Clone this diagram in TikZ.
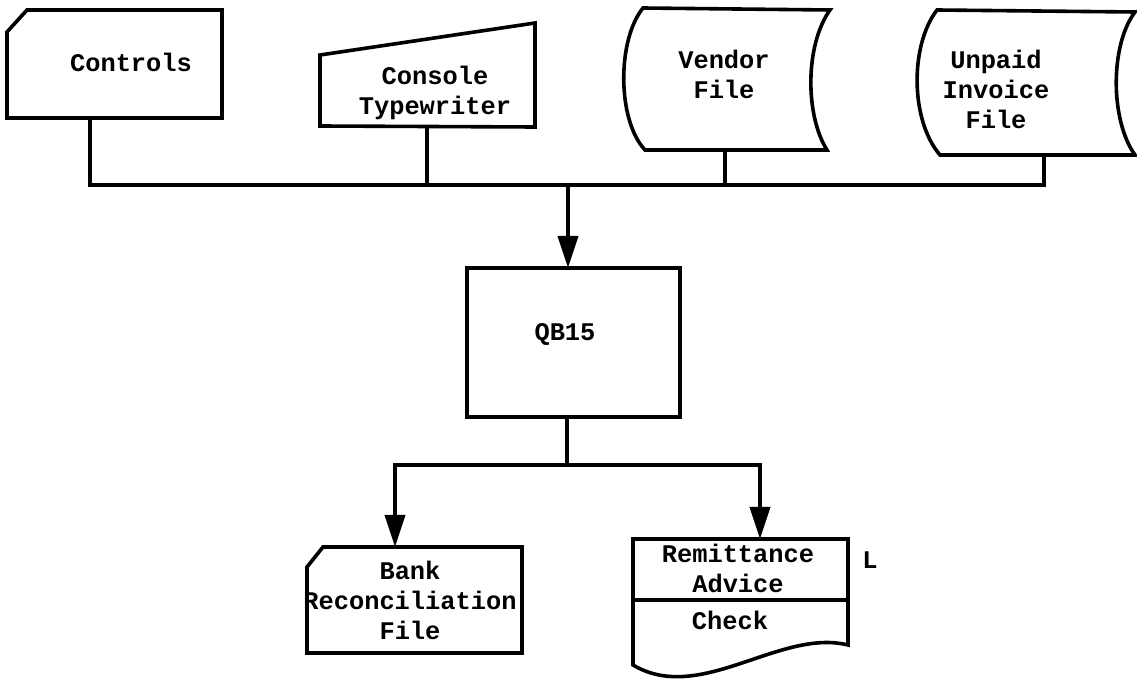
\documentclass[tikz,border=0pt]{standalone}
\usepackage{fontspec}
\setmonofont{Liberation Mono}
\usetikzlibrary{arrows.meta}
\tikzset{
  shp/.style={line width=1.8pt, line join=miter},
  wire/.style={line width=1.8pt},
  arr/.style={line width=1.8pt, -{Triangle[length=16pt,width=10pt]}},
  lbl/.style={font=\ttfamily\bfseries\fontsize{12.7}{15}\selectfont, align=center, inner sep=0pt},
}
\begin{document}
\begin{tikzpicture}[x=0.5pt,y=-0.5pt]
\useasboundingbox[fill=white] (0,0) rectangle (1137,679);

% ---- input symbols ----
% Controls (punched card)
\draw[shp] (7,32) -- (27,10) -- (222,10) -- (222,118) -- (7,118) -- cycle;
\node[lbl] (ctl) at (131,62) {Controls};
% Console typewriter (manual input)
\draw[shp] (320,55) -- (535,23) -- (535,127) -- (320,126) -- cycle;
\node[lbl] (con) at (435,93) {Console\\Typewriter};
% Vendor file (stored data)
\draw[shp] (643,8) -- (830,10) .. controls (805,45) and (805,115) .. (827,150)
  -- (645,150) .. controls (617,120) and (617,40) .. (643,8) -- cycle;
\node[lbl] (ven) at (724,74) {Vendor\\File};
% Unpaid invoice file (stored data)
\draw[shp] (937,10) -- (1135,12) .. controls (1110,45) and (1110,120) .. (1135,155)
  -- (940,155) .. controls (910,120) and (910,45) .. (937,10) -- cycle;
\node[lbl] (unp) at (996,89) {Unpaid\\Invoice\\File};

% ---- program ----
\node[shp, draw, minimum width=106.5pt, minimum height=74.5pt, inner sep=0pt] (qb) at (573.5,342.5) {};
\node[lbl] (qbl) at (565,335) {QB15};

% ---- outputs ----
% Bank reconciliation file (card)
\draw[shp] (307,567) -- (323,547) -- (522,547) -- (522,653) -- (307,653) -- cycle;
\node[lbl] (bank) at (410,600) {Bank\\Reconciliation\\File};
% Remittance advice / check (document)
\draw[shp] (633,539) -- (848,539) -- (848,645) .. controls (780,628) and (700,705) .. (633,665) -- cycle;
\draw[shp] (633,600) -- (848,600);
\node[lbl] (rem) at (738,568) {Remittance\\Advice};
\node[lbl] (chk) at (730,620) {Check};
\node[lbl] (ell) at (870,560) {L};

% ---- connectors ----
\coordinate (ctlB) at (90,118);
\coordinate (conB) at (427,127);
\coordinate (venB) at (725,150);
\coordinate (unpB) at (1044,155);
\coordinate (busL) at (90,185);
\coordinate (busR) at (1044,185);
\coordinate (busM) at (568,185);
\coordinate (qbT)  at (568,268);
\draw[wire] (ctlB) -- (busL) -- (busR) -- (unpB);
\draw[wire] (conB) -- (conB |- busL);
\draw[wire] (venB) -- (venB |- busL);
\draw[arr] (busM) -- (qbT);

\coordinate (qbB)   at (567,417);
\coordinate (outM)  at (567,465);
\coordinate (bankT) at (395,547);
\coordinate (remT)  at (760,539);
\draw[wire] (qbB) -- (outM);
\draw[arr] (outM) -| (bankT);
\draw[arr] (outM) -| (remT);
\end{tikzpicture}
\end{document}
